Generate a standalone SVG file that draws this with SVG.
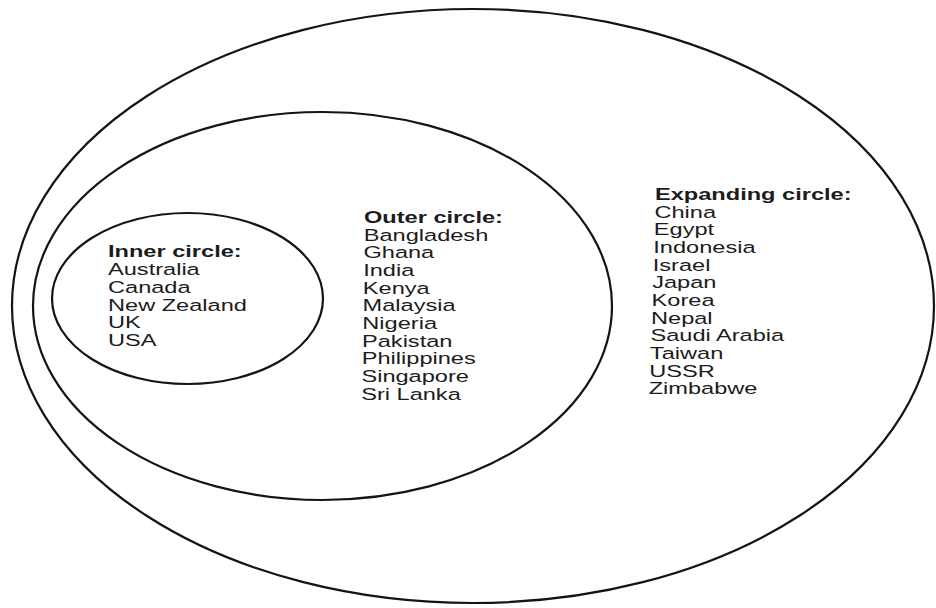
<svg xmlns="http://www.w3.org/2000/svg" width="936" height="608" viewBox="0 0 936 608">
<style>
.ring{fill:none;stroke:#141414;stroke-width:2.2}
.t{font-family:"Liberation Sans",Arial,sans-serif;font-size:16.5px;fill:#1c1c1c}
.h{font-weight:bold}
</style>
<rect width="936" height="608" fill="#ffffff"/>
<g id="expanding-circle">
<ellipse class="ring" cx="473" cy="306" rx="461" ry="297"/>
<g transform="translate(655,0) scale(1.43,1)">
<text class="t h" x="0" y="200">Expanding circle:</text>
<text class="t" x="-0.4" y="218">China</text>
<text class="t" x="-0.8" y="235.5">Egypt</text>
<text class="t" x="-1.2" y="253">Indonesia</text>
<text class="t" x="-1.6" y="271">Israel</text>
<text class="t" x="-2" y="288.5">Japan</text>
<text class="t" x="-2.4" y="306">Korea</text>
<text class="t" x="-2.8" y="324">Nepal</text>
<text class="t" x="-3.2" y="341.5">Saudi Arabia</text>
<text class="t" x="-3.6" y="359">Taiwan</text>
<text class="t" x="-4" y="377">USSR</text>
<text class="t" x="-4.4" y="394.5">Zimbabwe</text>
</g>
</g>
<g id="outer-circle">
<ellipse class="ring" cx="322.5" cy="306" rx="289.5" ry="194"/>
<g transform="translate(364,0) scale(1.43,1)">
<text class="t h" x="0" y="223">Outer circle:</text>
<text class="t" x="-0.2" y="241">Bangladesh</text>
<text class="t" x="-0.4" y="258.5">Ghana</text>
<text class="t" x="-0.6" y="276">India</text>
<text class="t" x="-0.8" y="294">Kenya</text>
<text class="t" x="-1" y="311.5">Malaysia</text>
<text class="t" x="-1.2" y="329">Nigeria</text>
<text class="t" x="-1.4" y="347">Pakistan</text>
<text class="t" x="-1.6" y="364.5">Philippines</text>
<text class="t" x="-1.8" y="382">Singapore</text>
<text class="t" x="-2" y="400">Sri Lanka</text>
</g>
</g>
<g id="inner-circle">
<ellipse class="ring" cx="187.5" cy="298.5" rx="135.5" ry="85.5"/>
<g transform="translate(108,0) scale(1.43,1)">
<text class="t h" x="0" y="257">Inner circle:</text>
<text class="t" x="0" y="275">Australia</text>
<text class="t" x="0" y="293">Canada</text>
<text class="t" x="0" y="311">New Zealand</text>
<text class="t" x="0" y="328.5">UK</text>
<text class="t" x="0" y="346">USA</text>
</g>
</g>
</svg>
